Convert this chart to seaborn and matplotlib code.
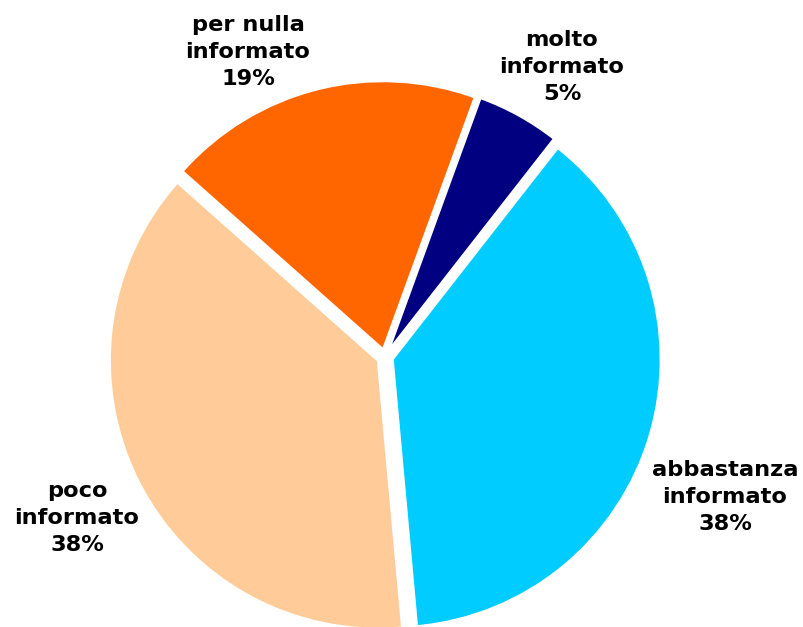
import matplotlib
matplotlib.use("Agg")
import matplotlib.pyplot as plt
import seaborn as sns

sns.set_theme(style="white")
plt.rcParams['font.family'] = ['DejaVu Sans']

categories = ["molto\ninformato", "abbastanza\ninformato", "poco\ninformato", "per nulla\ninformato"]
values = [5, 38, 38, 19]
colors = ["#000080", "#00CCFF", "#FFCC99", "#FF6600"]

# label positions in figure pixels (layout)
label_px = [(562, 67), (725, 497), (77, 518), (248, 52)]

W, H = 804, 627
fig = plt.figure(figsize=(W / 100, H / 100), dpi=100)
ax = fig.add_axes([0, 0, 1, 1])
cx, cy, r = 385, 357, 268

wedges, _ = ax.pie(values, colors=colors, startangle=70, counterclock=False,
                   explode=[0.03] * len(values),
                   wedgeprops=dict(edgecolor="white", linewidth=1.5))
ax.set_xlim(-cx / r, (W - cx) / r)
ax.set_ylim(-(H - cy) / r, cy / r)
ax.set_aspect("auto")
ax.axis("off")

total = sum(values)
for cat, v, (px, py) in zip(categories, values, label_px):
    fig.text(px / W, 1 - py / H, f"{cat}\n{round(100 * v / total)}%",
             ha="center", va="center", fontsize=16.2, fontweight="bold",
             linespacing=1.42, color="black")

fig.savefig("out.png", dpi=100)
